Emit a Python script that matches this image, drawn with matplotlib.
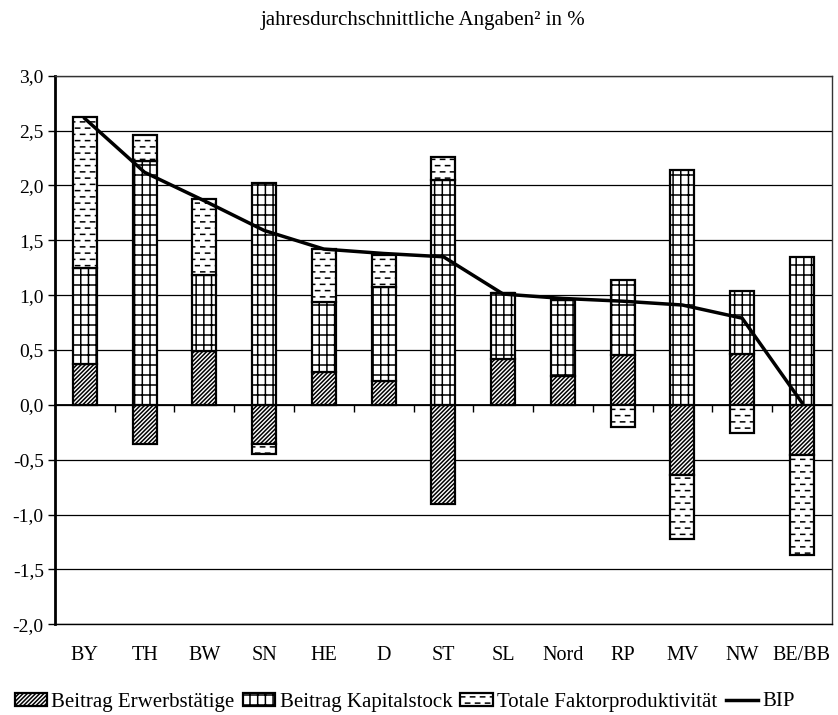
"""Growth decomposition by Land: stacked contributions with BIP line."""
import numpy as np
import matplotlib
matplotlib.use("Agg")
import matplotlib.pyplot as plt
import matplotlib.hatch as mhatch
from matplotlib.path import Path

cats = ["BY", "TH", "BW", "SN", "HE", "D", "ST", "SL", "Nord", "RP", "MV", "NW", "BE/BB"]
erwerb = [0.37, -0.36, 0.49, -0.36, 0.30, 0.22, -0.90, 0.42, 0.26, 0.45, -0.64, 0.46, -0.46]
kapital = [0.88, 2.22, 0.69, 2.02, 0.64, 0.85, 2.05, 0.60, 0.70, 0.69, 2.14, 0.58, 1.35]
tfp = [1.37, 0.24, 0.70, -0.09, 0.48, 0.30, 0.21, 0.0, 0.0, -0.20, -0.58, -0.26, -0.91]
bip = [2.61, 2.12, 1.86, 1.59, 1.42, 1.38, 1.35, 1.01, 0.97, 0.945, 0.91, 0.79, 0.02]
yticks = [-2.0, -1.5, -1.0, -0.5, 0.0, 0.5, 1.0, 1.5, 2.0, 2.5, 3.0]


class Dashes(mhatch.HatchPatternBase):
    # staggered short horizontal dashes, drawn for '*' instead of stars
    def __init__(self, hatch, density):
        self.rows = hatch.count("*") * 16
        self.cols = hatch.count("*") * 10
        self.num_vertices = self.rows * self.cols * 2

    def set_vertices_and_codes(self, vertices, codes):
        i = 0
        for r in range(self.rows):
            y = (r + 0.5) / self.rows
            off = 0.05 if r % 2 == 0 else 0.55
            for c in range(self.cols):
                x0 = (c + off) / self.cols
                vertices[i] = (x0, y)
                vertices[i + 1] = (x0 + 0.42 / self.cols, y)
                codes[i] = Path.MOVETO
                codes[i + 1] = Path.LINETO
                i += 2


class Grid(mhatch.HatchPatternBase):
    # rectangular grid (narrow cells), drawn for '.' instead of small dots
    def __init__(self, hatch, density):
        self.rows = hatch.count(".") * 10
        self.cols = hatch.count(".") * 13
        self.num_vertices = (self.rows + self.cols) * 2

    def set_vertices_and_codes(self, vertices, codes):
        i = 0
        for r in range(self.rows):
            y = (r + 0.5) / self.rows
            vertices[i] = (0.0, y)
            vertices[i + 1] = (1.0, y)
            i += 2
        for c in range(self.cols):
            xx = (c + 0.5) / self.cols
            vertices[i] = (xx, 0.0)
            vertices[i + 1] = (xx, 1.0)
            i += 2
        codes[0::2] = Path.MOVETO
        codes[1::2] = Path.LINETO


mhatch._hatch_types = [t for t in mhatch._hatch_types
                       if t not in (mhatch.Stars, mhatch.SmallFilledCircles)] + [Dashes, Grid]

plt.rcParams["font.family"] = ["Liberation Serif", "DejaVu Serif"]
plt.rcParams["hatch.linewidth"] = 1.1

fig = plt.figure(figsize=(8.38, 7.15), dpi=100, facecolor="white")
ax = fig.add_axes([0.0656, 0.127, 0.927, 0.767])

x = np.arange(len(cats))
series = [(erwerb, "/" * 8, "Beitrag Erwerbstätige"),
          (kapital, ".", "Beitrag Kapitalstock"),
          (tfp, "*", "Totale Faktorproduktivität")]
pos_base = np.zeros(len(cats))
neg_base = np.zeros(len(cats))
for vals, hatch, label in series:
    v = np.array(vals)
    bottom = np.where(v >= 0, pos_base, neg_base)
    ax.bar(x, v, 0.4, bottom=bottom, color="white", edgecolor="black",
           linewidth=1.6, hatch=hatch, label=label, zorder=2)
    pos_base += np.where(v >= 0, v, 0)
    neg_base += np.where(v < 0, v, 0)

ax.plot(x, bip, color="black", lw=2.5, label="BIP", zorder=3)

ymin, ymax = -2.0, 3.0
ax.set_ylim(ymin, ymax)
ax.set_xlim(-0.5, len(cats) - 0.5)
ax.set_yticks(yticks)
ax.set_yticklabels([f"{v:.1f}".replace(".", ",") for v in yticks], fontsize=14)
ax.tick_params(axis="y", length=5, width=1, pad=3)
ax.set_xticks(x)
ax.set_xticklabels(cats, fontsize=14.5)
ax.tick_params(axis="x", length=0, pad=16)
ax.yaxis.grid(True, color="black", lw=0.9)
ax.set_axisbelow(True)

ax.spines["left"].set_linewidth(2.0)
ax.spines["bottom"].set_linewidth(1.0)
for s in ["top", "right"]:
    ax.spines[s].set_linewidth(1.0)
    ax.spines[s].set_color("#333333")

# category axis crosses at 0 with tick marks between categories
sec = ax.secondary_xaxis((0 - ymin) / (ymax - ymin))
sec.set_xticks(np.arange(len(cats) - 1) + 0.5)
sec.tick_params(length=5, width=1, direction="out", labelbottom=False)
sec.spines["bottom"].set_linewidth(1.3)

fig.text(0.505, 1 - 21 / 715, "jahresdurchschnittliche Angaben² in %", ha="center",
         va="center", fontsize=15)

h, l = ax.get_legend_handles_labels()
order = [1, 2, 3, 0]
fig.legend([h[i] for i in order], [l[i] for i in order], loc="center", ncol=4,
           bbox_to_anchor=(0.483, 1 - 702 / 715), frameon=False, fontsize=15,
           handlelength=1.55, handleheight=0.6, handletextpad=0.2, columnspacing=0.4,
           borderpad=0.1)

fig.savefig("out.png", dpi=100, facecolor="white")
